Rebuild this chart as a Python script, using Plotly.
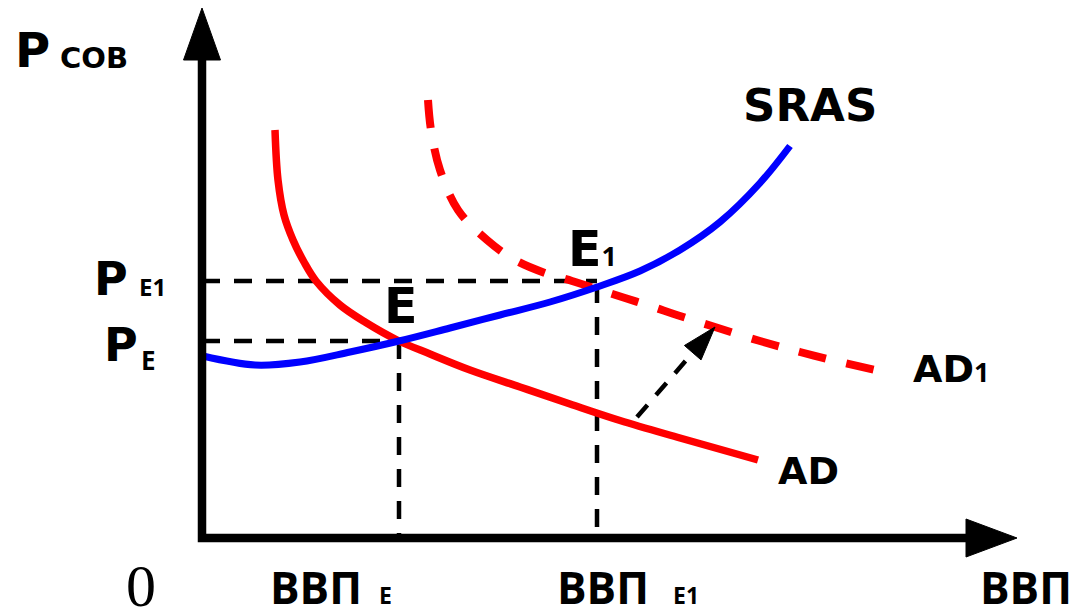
import numpy as np
import plotly.graph_objects as go

# ---- data (schematic units: x = real GDP, y = aggregate price level) ----
sras_x = [1, 53, 98, 148, 197, 248, 298, 348, 395, 438, 478, 518, 558, 588]
sras_y = [182, 173, 176, 186, 197, 210, 223, 236, 251, 267, 288, 316, 355, 392]

ad_x = [73, 76, 82, 91, 102, 114, 138, 163, 197, 228, 268, 318, 368, 418, 478, 556]
ad_y = [408, 358, 323, 298, 276, 257, 233, 216, 197, 184, 168, 151, 134, 117.5, 100, 78]

ad1_x = [226, 229, 238, 256, 285, 313, 343, 370, 395, 423, 448, 478, 513, 558, 598, 638, 682]
ad1_y = [438, 408, 368, 328, 298, 278, 265, 257, 249, 240, 232, 222, 211, 197, 186, 176, 166]

q_e, p_e = 197, 197        # equilibrium E
q_e1, p_e1 = 395, 257      # equilibrium E1

shift_from = (435, 121)    # shift arrow AD -> AD1
shift_to = (513, 211)

axis_x_end = 815
axis_y_end = 530

RED = "#FF0000"
BLUE = "#0000FF"
BLACK = "#000000"

fig = go.Figure()

def add_line(x, y, color, width, dash="solid", shape="spline"):
    fig.add_trace(go.Scatter(x=x, y=y, mode="lines",
                             line=dict(color=color, width=width, dash=dash, shape=shape, smoothing=1.0),
                             hoverinfo="skip", showlegend=False))

def add_head(tip, direction, length, half_w):
    d = np.array(direction, float)
    d /= np.linalg.norm(d)
    n = np.array([-d[1], d[0]])
    t = np.array(tip, float)
    b = t - d * length
    pts = [t, b + n * half_w, b - n * half_w, t]
    fig.add_trace(go.Scatter(x=[p[0] for p in pts], y=[p[1] for p in pts], mode="lines",
                             fill="toself", fillcolor=BLACK, line=dict(color=BLACK, width=1),
                             hoverinfo="skip", showlegend=False))

# guide dashed lines
gd = "18px,14px"
add_line([0, q_e], [p_e, p_e], BLACK, 4.5, gd, "linear")
add_line([0, q_e1], [p_e1, p_e1], BLACK, 4.5, gd, "linear")
add_line([q_e, q_e], [p_e, 0], BLACK, 4.5, gd, "linear")
add_line([q_e1, q_e1], [p_e1 - 4, 0], BLACK, 4.5, gd, "linear")

# curves
add_line(ad1_x, ad1_y, RED, 8, "28px,21px")
add_line(ad_x, ad_y, RED, 7.5)
add_line(sras_x, sras_y, BLUE, 7)

# shift arrow
head_len = 34
vec = np.array(shift_to, float) - np.array(shift_from, float)
u = vec / np.linalg.norm(vec)
base = np.array(shift_to) - u * head_len
add_line([shift_from[0], base[0]], [shift_from[1], base[1]], BLACK, 4.5, "16px,13px", "linear")
add_head(shift_to, vec, head_len, 11)

# axes
add_line([0, 0, axis_x_end - 50], [axis_y_end - 50, 0, 0], BLACK, 8.5, "solid", "linear")
add_head((0, axis_y_end), (0, 1), 52, 18.5)
add_head((axis_x_end, 0), (1, 0), 51, 19)

DV = "DejaVu Sans"
OS = "Open Sans"

def txt(x, y, s, size, family=DV, weight="bold", height=None):
    fig.add_annotation(x=x, y=y, text=s, showarrow=False, xanchor="left", yanchor="middle",
                       height=height, valign="middle",
                       font=dict(family=family, size=size, color=BLACK, weight=weight))

def sub(s, size):
    return f"<span style='font-family:Open Sans;font-size:{size}px'>{s}</span>"

txt(-189, 488, "P", 48)
txt(-144, 480, "СОВ", 29)
txt(-110, 259, "P", 46)
txt(-65, 252, "E1", 24, OS)
txt(-100, 193, "P", 46)
txt(-63, 178, "E", 26, OS)
txt(180, 232, "E", 49)
txt(364, 289, "E" + sub("1", 27), 49)
txt(539, 433, "SRAS", 45)
txt(709, 169, "AD" + sub("1", 27), 38)
txt(574, 67, "AD", 38)
txt(-78, -48, "0", 60, "Liberation Serif", "normal", height=46)
txt(66, -49, "ВВП", 44, OS, height=40)
txt(175, -57, "E", 23, OS, height=20)
txt(353, -49, "ВВП", 44, OS, height=40)
txt(469, -57, "E1", 23, OS, height=20)
txt(776, -49, "ВВП", 44, OS, height=40)

fig.update_layout(width=1081, height=611, margin=dict(l=0, r=0, t=0, b=0),
                  paper_bgcolor="white", plot_bgcolor="white", showlegend=False)
fig.update_xaxes(range=[-202, 879], visible=False, fixedrange=True)
fig.update_yaxes(range=[-73, 538], visible=False, fixedrange=True)

fig.write_html("out.html", config={"displayModeBar": False},
               post_script="document.body.style.margin='0';document.body.style.overflow='hidden';")
